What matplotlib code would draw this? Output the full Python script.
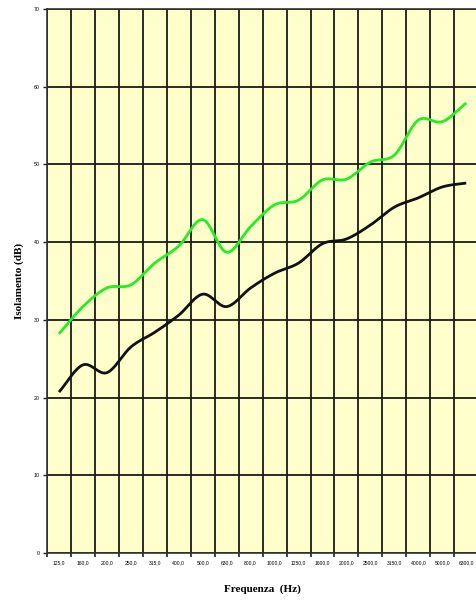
import numpy as np
import matplotlib
matplotlib.use("Agg")
import matplotlib.pyplot as plt

# third-octave bands (Hz) and sound insulation (dB)
freqs = [125, 160, 200, 250, 315, 400, 500, 630, 800, 1000,
         1250, 1600, 2000, 2500, 3150, 4000, 5000, 6300]
tick_labels = [f"{f:.1f}".replace(".", ",") for f in freqs]
black_db = [20.7, 24.2, 23.2, 26.5, 28.4, 30.6, 33.3, 31.7, 34.1, 36.0,
            37.3, 39.8, 40.4, 42.2, 44.5, 45.7, 47.1, 47.6]
green_db = [28.2, 31.7, 34.1, 34.5, 37.3, 39.5, 42.9, 38.7, 42.0, 44.8,
            45.4, 48.0, 48.1, 50.3, 51.2, 55.7, 55.5, 57.9]


def smooth(x, y, n=20):
    # catmull-rom, like the spreadsheet "smoothed line" option
    x = np.asarray(x, float)
    y = np.asarray(y, float)
    px = np.concatenate([[2 * x[0] - x[1]], x, [2 * x[-1] - x[-2]]])
    py = np.concatenate([[2 * y[0] - y[1]], y, [2 * y[-1] - y[-2]]])
    t = np.linspace(0, 1, n, endpoint=False)
    xs, ys = [], []
    for i in range(1, len(px) - 2):
        for p, out in ((px, xs), (py, ys)):
            p0, p1, p2, p3 = p[i - 1], p[i], p[i + 1], p[i + 2]
            out.extend(0.5 * ((2 * p1) + (-p0 + p2) * t
                              + (2 * p0 - 5 * p1 + 4 * p2 - p3) * t ** 2
                              + (-p0 + 3 * p1 - 3 * p2 + p3) * t ** 3))
    xs.append(x[-1])
    ys.append(y[-1])
    return xs, ys


fig = plt.figure(figsize=(4.77, 6.01), dpi=100)
ax = fig.add_axes([0.0985, 0.080, 0.904, 0.905])
ax.set_facecolor("#ffffcc")

pos = np.arange(len(freqs))
for vals, col in ((black_db, "#111111"), (green_db, "#22ee22")):
    xs, ys = smooth(pos, vals)
    ax.plot(xs, ys, color=col, lw=2.0, solid_capstyle="butt", zorder=3)

ax.set_xlim(-0.5, len(freqs) - 0.5)
ax.set_ylim(0, 70)
ax.set_xticks(pos)
ax.set_xticklabels(tick_labels, fontsize=3.6, family="Liberation Sans")
ax.set_xticks(np.arange(len(freqs) + 1) - 0.5, minor=True)
ax.set_yticks(range(0, 71, 10))
ax.set_yticklabels([str(v) for v in range(0, 71, 10)], fontsize=3.8,
                   family="Liberation Sans")
ax.tick_params(axis="x", which="major", length=0, pad=5)
ax.tick_params(axis="x", which="minor", length=3, width=1.2, color="#222222")
ax.tick_params(axis="y", length=3, width=1.0, pad=2, color="#222222")

ax.grid(True, axis="x", which="minor", color="#1a1a1a", lw=1.3)
ax.grid(True, axis="y", which="major", color="#1a1a1a", lw=1.3)
ax.set_axisbelow(True)
for s in ax.spines.values():
    s.set_color("#333333")
    s.set_linewidth(1.2)

ax.set_xlabel("Frequenza  (Hz)", fontsize=8, fontweight="bold",
              family="Liberation Serif", labelpad=14)
ax.set_ylabel("Isolamento (dB)", fontsize=8, fontweight="bold",
              family="Liberation Serif", labelpad=7)

fig.savefig("out.png", dpi=100)
